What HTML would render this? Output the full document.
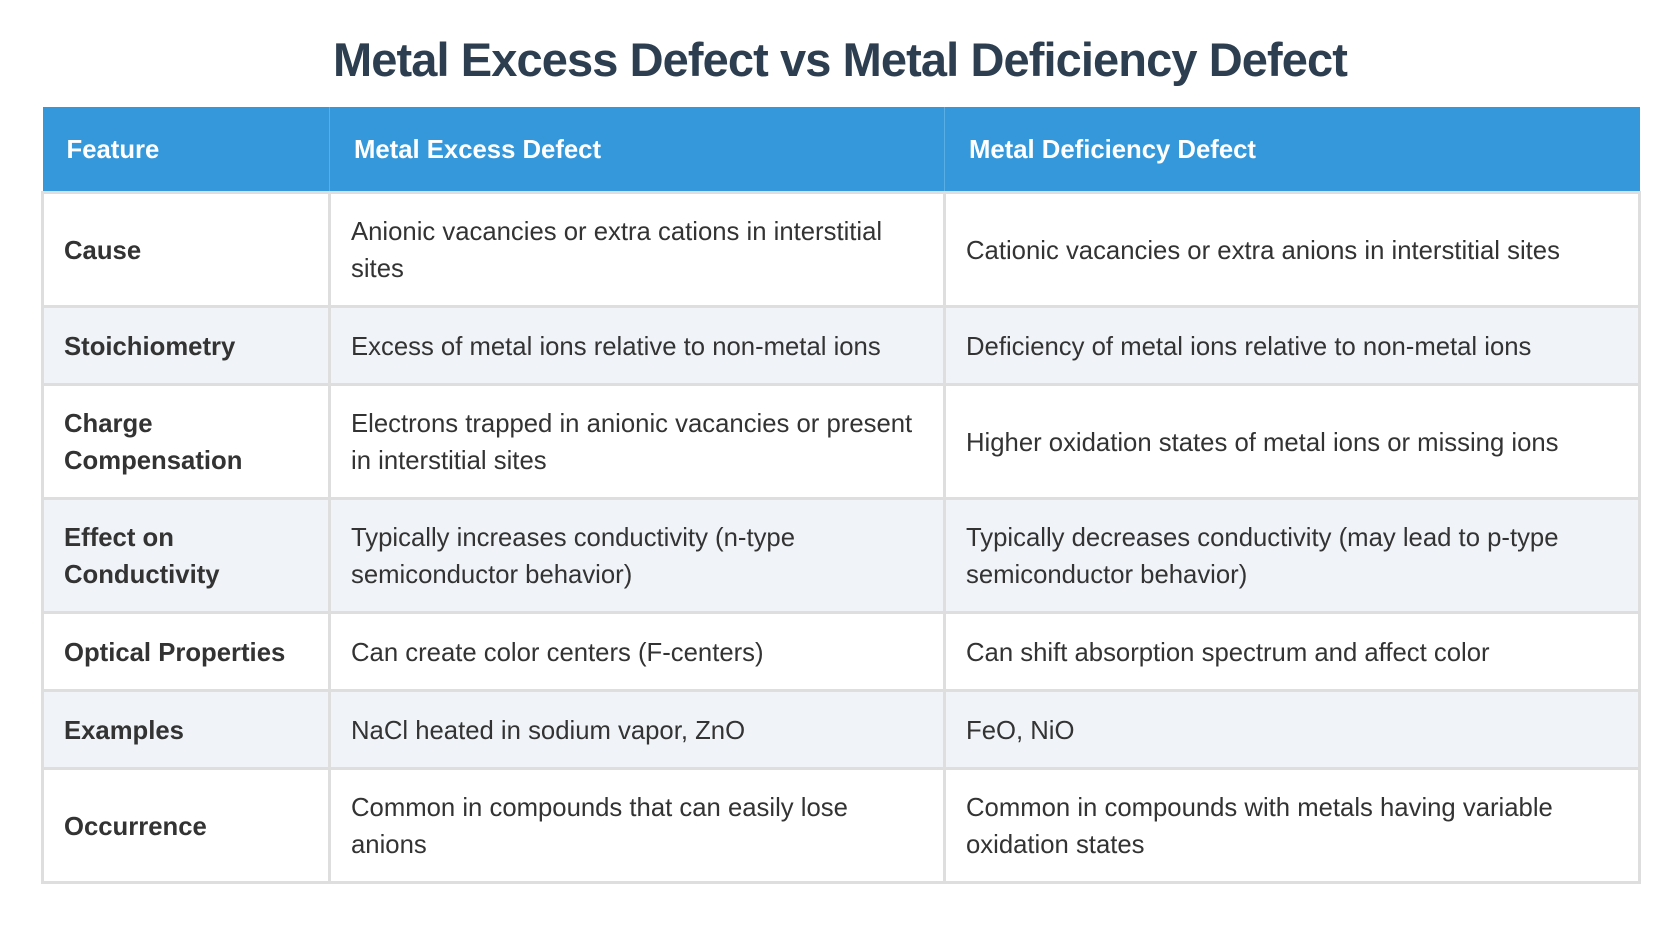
<!DOCTYPE html>
<html><head><meta charset="utf-8"><style>
body{margin:0;width:1680px;height:928px;background:#fff;font-family:"Liberation Sans",Arial,sans-serif;position:relative;overflow:hidden}
h1{position:absolute;top:31px;left:0;width:1680px;text-align:center;margin:0;font-size:47px;line-height:58px;color:#2c3e50;font-weight:bold;letter-spacing:-0.9px}
table{position:absolute;left:41px;top:107px;width:1597px;border-collapse:collapse;table-layout:fixed}
th{background:#3498db;color:#fff;font-size:25.7px;font-weight:bold;text-align:left;padding:2px 0 0 24px;height:82px;border-right:1px solid #5aaee6}
th:last-child{border-right:none}
td{border:3px solid #dedede;font-size:25.7px;color:#333;line-height:37px;padding:3px 18px 0 20px;vertical-align:middle}
td:first-child{font-weight:bold;color:#333}
tr.a td{background:#fff}
tr.b td{background:#f0f4f8}
</style></head><body>
<h1>Metal Excess Defect vs Metal Deficiency Defect</h1>
<table>
<colgroup><col style="width:287px"><col style="width:615px"><col style="width:695px"></colgroup>
<tr><th>Feature</th><th>Metal Excess Defect</th><th>Metal Deficiency Defect</th></tr>
<tr class="a" style="height:114px"><td>Cause</td><td>Anionic vacancies or extra cations in interstitial sites</td><td>Cationic vacancies or extra anions in interstitial sites</td></tr>
<tr class="b" style="height:78px"><td>Stoichiometry</td><td>Excess of metal ions relative to non-metal ions</td><td>Deficiency of metal ions relative to non-metal ions</td></tr>
<tr class="a" style="height:114px"><td>Charge Compensation</td><td>Electrons trapped in anionic vacancies or present in interstitial sites</td><td>Higher oxidation states of metal ions or missing ions</td></tr>
<tr class="b" style="height:114px"><td>Effect on Conductivity</td><td>Typically increases conductivity (n-type semiconductor behavior)</td><td>Typically decreases conductivity (may lead to p-type semiconductor behavior)</td></tr>
<tr class="a" style="height:78px"><td>Optical Properties</td><td>Can create color centers (F-centers)</td><td>Can shift absorption spectrum and affect color</td></tr>
<tr class="b" style="height:78px"><td>Examples</td><td>NaCl heated in sodium vapor, ZnO</td><td>FeO, NiO</td></tr>
<tr class="a" style="height:114px"><td>Occurrence</td><td>Common in compounds that can easily lose anions</td><td>Common in compounds with metals having variable oxidation states</td></tr>
</table>
</body></html>
